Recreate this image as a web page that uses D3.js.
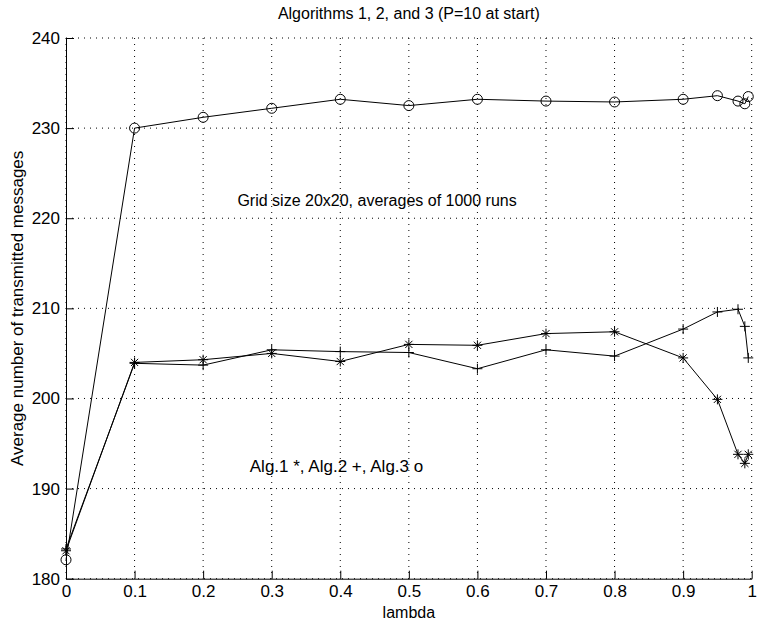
<!DOCTYPE html>
<html>
<head>
<meta charset="utf-8">
<script src="https://cdn.jsdelivr.net/npm/d3@7"></script>
<style>
body { margin: 0; background: #fff; }
svg { font-family: "Liberation Sans", Arial, Helvetica, sans-serif; }
.line { fill: none; stroke: #000; stroke-width: 1; }
.grid line { stroke: #000; stroke-width: 1; stroke-dasharray: 1,5; }
.axis path, .axis line { stroke: #000; stroke-width: 1; }
.axis text { font-size: 17px; fill: #000; }
</style>
</head>
<body>
<div id="graph"></div>
<script>
// data
var lambda = [0, 0.1, 0.2, 0.3, 0.4, 0.5, 0.6, 0.7, 0.8, 0.9, 0.95, 0.98, 0.99, 0.995];
var alg1 = [183.1, 204.0, 204.3, 205.0, 204.1, 206.0, 205.9, 207.2, 207.4, 204.5, 199.9, 193.8, 192.8, 193.8];
var alg2 = [183.3, 203.9, 203.7, 205.4, 205.2, 205.1, 203.3, 205.4, 204.7, 207.7, 209.6, 209.9, 208.0, 204.5];
var alg3 = [182.1, 230.0, 231.2, 232.2, 233.2, 232.5, 233.2, 233.0, 232.9, 233.2, 233.6, 233.0, 232.7, 233.5];
var xTicks = [0, 0.1, 0.2, 0.3, 0.4, 0.5, 0.6, 0.7, 0.8, 0.9, 1];
var yTicks = [180, 190, 200, 210, 220, 230, 240];

// set the dimensions and margins of the graph
var svg = d3.select('#graph').append("svg")
.attr('width', 757)
.attr('height', 626)
var margin = {top: 38, right: 5.3, bottom: 47.3, left: 66},
width = +svg.attr("width") - margin.left - margin.right,
height = +svg.attr("height") - margin.top - margin.bottom,
g = svg.append("g").attr("transform", "translate(" + margin.left + "," + margin.top + ")");

var x = d3.scaleLinear().domain([0, 1]).range([0, width]);
var y = d3.scaleLinear().domain([180, 240]).range([height, 0]);

// dotted grid
g.append("g").attr("class", "grid")
.selectAll("line").data(xTicks).enter().append("line")
.attr("x1", function(d) { return x(d); })
.attr("x2", function(d) { return x(d); })
.attr("y1", 0).attr("y2", height);
g.append("g").attr("class", "grid")
.selectAll("line").data(yTicks).enter().append("line")
.attr("y1", function(d) { return y(d); })
.attr("y2", function(d) { return y(d); })
.attr("x1", 0).attr("x2", width);

// axes, ticks pointing inward like matlab
g.append("g").attr("class", "axis")
.attr("transform", "translate(0," + height + ")")
.call(d3.axisBottom(x).tickValues(xTicks).tickSize(-8).tickSizeOuter(0).tickPadding(6)
.tickFormat(function(d) { return String(d); }));
g.append("g").attr("class", "axis")
.call(d3.axisLeft(y).tickValues(yTicks).tickSize(-8).tickSizeOuter(0).tickPadding(6));
g.selectAll(".axis text").style("font-family", "Liberation Sans, Arial, sans-serif");

// the three series
var series = [
  {vals: alg1, mark: "star"},
  {vals: alg2, mark: "plus"},
  {vals: alg3, mark: "circle"}
];

var valueLine = d3.line()
.x(function(d) { return x(d[0]); })
.y(function(d) { return y(d[1]); });

function markPath(type) {
  var r = 5, s = 3.6;
  if (type == "plus") return "M" + (-r) + ",0H" + r + "M0," + (-r) + "V" + r;
  return "M" + (-r) + ",0H" + r + "M0," + (-r) + "V" + r +
    "M" + (-s) + "," + (-s) + "L" + s + "," + s + "M" + (-s) + "," + s + "L" + s + "," + (-s);
}

series.forEach(function(s) {
  var pts = lambda.map(function(l, i) { return [l, s.vals[i]]; });
  g.append("path").datum(pts).attr("class", "line").attr("d", valueLine);
  if (s.mark == "circle") {
    g.selectAll(".c").data(pts).enter().append("circle")
    .attr("cx", function(d) { return x(d[0]); })
    .attr("cy", function(d) { return y(d[1]); })
    .attr("r", 5).attr("fill", "none").attr("stroke", "#000").attr("stroke-width", 1);
  } else {
    g.selectAll(".m").data(pts).enter().append("path")
    .attr("transform", function(d) { return "translate(" + x(d[0]) + "," + y(d[1]) + ")"; })
    .attr("d", markPath(s.mark))
    .attr("fill", "none").attr("stroke", "#000").attr("stroke-width", 1);
  }
});

// title, labels, text notes
svg.append("text")
.attr("x", margin.left + width / 2).attr("y", 19)
.attr("text-anchor", "middle").style("font-size", "16px")
.text("Algorithms 1, 2, and 3 (P=10 at start)");

svg.append("text")
.attr("x", margin.left + width / 2).attr("y", 618)
.attr("text-anchor", "middle").style("font-size", "16px")
.text("lambda");

svg.append("text")
.attr("transform", "translate(23," + (margin.top + height / 2) + ") rotate(-90)")
.attr("text-anchor", "middle").style("font-size", "17px")
.text("Average number of transmitted messages");

g.append("text")
.attr("x", x(0.25)).attr("y", y(222)).attr("dy", "0.35em")
.style("font-size", "16px")
.text("Grid size 20x20, averages of 1000 runs");

g.append("text")
.attr("x", x(0.268)).attr("y", y(192.5)).attr("dy", "0.35em")
.style("font-size", "17px")
.text("Alg.1 *, Alg.2 +, Alg.3 o");
</script>
</body>
</html>
